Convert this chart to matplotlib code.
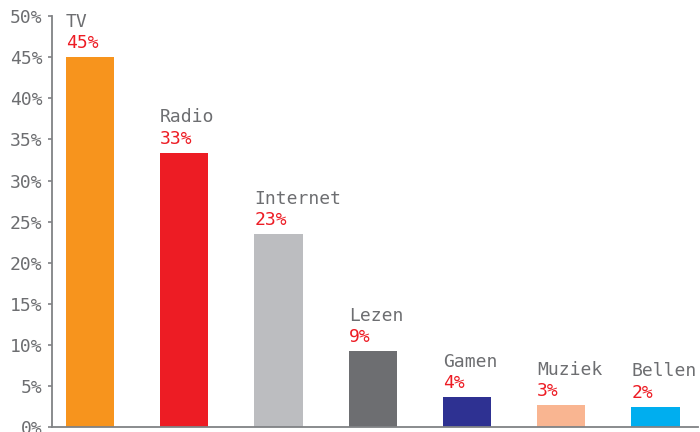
import matplotlib.pyplot as plt
from matplotlib.ticker import FuncFormatter

# data
categories = ["TV", "Radio", "Internet", "Lezen", "Gamen", "Muziek", "Bellen"]
values = [45.0, 33.4, 23.5, 9.3, 3.7, 2.7, 2.5]
labels = ["45%", "33%", "23%", "9%", "4%", "3%", "2%"]
colors = ["#F7941D", "#ED1C24", "#BCBDC0", "#6D6E71", "#2E3192", "#F9B591", "#00AEEF"]

grey = "#808285"
textgrey = "#6D6E71"
red = "#ED1C24"
font = "DejaVu Sans Mono"
fs = 13

fig = plt.figure(figsize=(7, 4.32), dpi=100)
ax = fig.add_axes([0.0743, 0.0109, 0.9227, 0.9521])

x = list(range(len(categories)))
w = 0.51
ax.bar(x, values, width=w, color=colors)

# labels boven de balken
for i in x:
    left = i - w / 2
    ax.annotate(labels[i], (left, values[i]), xytext=(0, 6.3), textcoords="offset points",
                ha="left", va="baseline", color=red, fontsize=fs, family=font)
    ax.annotate(categories[i], (left, values[i]), xytext=(0, 21.8), textcoords="offset points",
                ha="left", va="baseline", color=textgrey, fontsize=fs, family=font)

ax.set_xlim(-0.403, 6.45)
ax.set_ylim(0, 50)
ax.set_yticks(range(0, 51, 5))
ax.yaxis.set_major_formatter(FuncFormatter(lambda v, p: "%d%%" % v))
ax.set_xticks([])

for s in ["top", "right"]:
    ax.spines[s].set_visible(False)
for s in ["left", "bottom"]:
    ax.spines[s].set_color(grey)
    ax.spines[s].set_linewidth(1.3)

ax.tick_params(axis="y", direction="out", length=3, width=1.2, color=grey,
               labelcolor=textgrey, labelsize=fs, pad=4)
for t in ax.get_yticklabels():
    t.set_family(font)

plt.savefig("out.png", dpi=100)
